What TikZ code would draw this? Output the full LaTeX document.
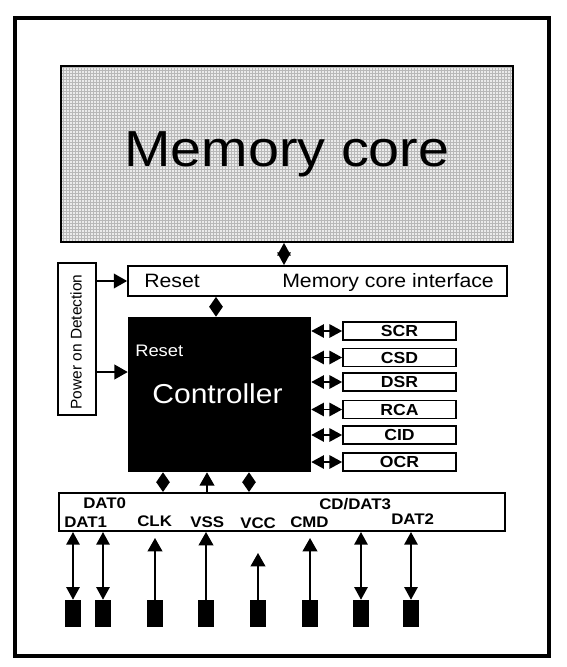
\documentclass[tikz,border=0pt]{standalone}
\usepackage{fontspec}
\setmainfont{Liberation Sans}[FakeStretch=1.1]
\newfontfamily\podfont{Liberation Sans}
\usetikzlibrary{arrows.meta}
\usetikzlibrary{patterns}

% fine grid used for the memory core fill
\pgfdeclarepatternformonly{memgrid}{\pgfqpoint{-0.5pt}{-0.5pt}}{\pgfqpoint{2.75pt}{2.75pt}}{\pgfqpoint{2.25pt}{2.25pt}}{%
  \pgfsetlinewidth{0.5pt}
  \pgfpathmoveto{\pgfqpoint{0pt}{0pt}}\pgfpathlineto{\pgfqpoint{2.35pt}{0pt}}
  \pgfpathmoveto{\pgfqpoint{0pt}{0pt}}\pgfpathlineto{\pgfqpoint{0pt}{2.35pt}}
  \pgfusepath{stroke}}

\begin{document}
\begin{tikzpicture}[x=0.75pt,y=0.75pt,yscale=-1,xscale=1,
  box/.style={draw, line width=1.3pt, inner sep=0pt},
  regbox/.style={box, minimum width=84.75pt, minimum height=13.5pt, font=\bfseries\fontsize{12}{12}\selectfont},
  pad/.style={fill=black, minimum width=12pt, minimum height=20.25pt, inner sep=0pt},
  sig/.style={line width=1.3pt, -{Triangle[length=10pt,width=11pt]}},
  bidir/.style={line width=1.3pt, {Triangle[length=9.5pt,width=10pt]}-{Triangle[length=9.5pt,width=10pt]}},
  shortbidir/.style={line width=1.3pt, {Triangle[length=7.5pt,width=10pt]}-{Triangle[length=7.5pt,width=10pt]}},
  pinlabel/.style={anchor=base west, inner sep=0pt, font=\bfseries\fontsize{11.5}{12}\selectfont}]
\useasboundingbox (0,0) rectangle (567,667);

%Frame
\draw [line width=3pt] (15,18) rectangle (549,656);

%Shape: Memory core
\node [box, line width=1.3pt, minimum width=339pt, minimum height=132pt,
  preaction={fill=black!8}, pattern=memgrid, pattern color=black!28,
  font=\fontsize{38}{40}\selectfont] (mem) at (287,154) {Memory core};

%Shape: Memory core interface
\node [box, minimum width=284.25pt, minimum height=22.5pt] (iface) at (317.5,281) {};
% Text Node
\node [anchor=base west, inner sep=0pt, font=\fontsize{14.5}{15}\selectfont] (ifreset) at (144,287) {Reset};
% Text Node
\node [anchor=base west, inner sep=0pt, font=\fontsize{14.5}{15}\selectfont] (ifname) at (282,287) {Memory core interface};

%Shape: Power on Detection
\node [box, minimum width=28.5pt, minimum height=114pt] (pod) at (77,339) {};
% Text Node
\node [rotate=90, inner sep=0pt, font=\podfont\fontsize{11.6}{12}\selectfont] (podname) at (76,342) {Power on Detection};

%Shape: Controller
\node [fill=black, minimum width=137.25pt, minimum height=116.25pt, inner sep=0pt] (ctrl) at (219.5,394.5) {};
% Text Node
\node [anchor=base west, inner sep=0pt, text=white, font=\fontsize{12.5}{13}\selectfont] (ctrlreset) at (135,356) {Reset};
% Text Node
\node [anchor=base, inner sep=0pt, text=white, font=\fontsize{20.5}{21}\selectfont] (ctrlname) at (217.5,403) {Controller};

%Registers
\foreach \reg/\y in {SCR/331,CSD/357.5,DSR/382,RCA/409.5,CID/435,OCR/462}{
  \node [regbox] (\reg) at (399.5,\y) {\reg};
  \draw [bidir] (ctrl.east |- \reg.west) -- (\reg.west);
}

%Straight Lines
\coordinate (memport) at (284,0);
\coordinate (ctrlport) at (216,0);
\coordinate (podlow) at (96,372);
\draw [bidir] (mem.south -| memport) -- (iface.north -| memport);
\draw [shortbidir] (iface.south -| ctrlport) -- (ctrl.north -| ctrlport);
\draw [sig] (pod.east |- iface.west) -- (iface.west);
\draw [sig] (podlow) -- (ctrl.west |- podlow);

%Shape: Card bus
\node [box, line width=1.5pt, minimum width=334.5pt, minimum height=28.5pt] (bus) at (282,512) {};
\coordinate (busa) at (163,0);
\coordinate (busb) at (207,0);
\coordinate (busc) at (249,0);
\draw [shortbidir] (ctrl.south -| busa) -- (bus.north -| busa);
\draw [sig] (bus.north -| busb) -- (ctrl.south -| busb);
\draw [shortbidir] (ctrl.south -| busc) -- (bus.north -| busc);

% Text Node
\node [pinlabel] (lbldat0) at (83,508) {DAT0};
\node [pinlabel] (lbldat1) at (64,527) {DAT1};
\node [pinlabel] (lblclk) at (137,526) {CLK};
\node [pinlabel] (lblvss) at (190,527) {VSS};
\node [pinlabel] (lblvcc) at (240,528) {VCC};
\node [pinlabel] (lblcmd) at (290,527) {CMD};
\node [pinlabel] (lbldat3) at (319,509) {CD/DAT3};
\node [pinlabel] (lbldat2) at (391,524) {DAT2};

%Pads
\foreach \x [count=\i] in {73,103,155,206,258,310,361,411}
  \node [pad] (pad\i) at (\x,613.5) {};
\coordinate (clktip) at (0,538);
\coordinate (vcctip) at (0,553);
\foreach \i in {1,2,7,8}
  \draw [bidir] (pad\i.north) -- (pad\i.north |- bus.south);
\draw [sig] (pad3.north) -- (pad3.north |- clktip);
\draw [sig] (pad4.north) -- (pad4.north |- bus.south);
\draw [sig] (pad5.north) -- (pad5.north |- vcctip);
\draw [sig] (pad6.north) -- (pad6.north |- clktip);

\end{tikzpicture}
\end{document}
